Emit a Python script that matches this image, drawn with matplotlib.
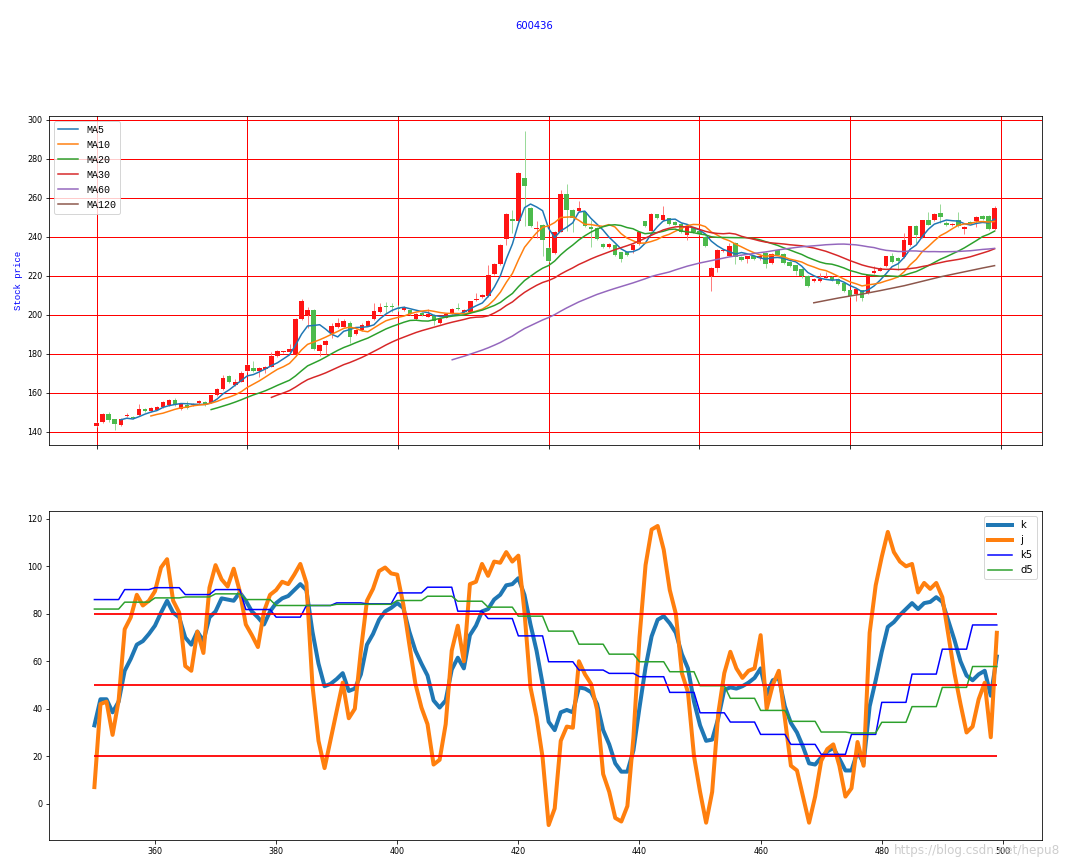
import numpy as np
import pandas as pd
import matplotlib
matplotlib.use("Agg")
import matplotlib.pyplot as plt

# 日K线数据 (600436, 150个交易日)
opens = [143.0, 145.0, 149.0, 146.3, 143.4, 147.8, 147.7, 148.4, 151.6, 150.6,
         151.3, 152.5, 153.5, 156.0, 151.8, 153.5, 153.6, 154.5, 155.4, 154.9,
         158.6, 162.0, 168.5, 163.9, 165.6, 171.0, 172.5, 171.0, 172.0, 173.3,
         178.7, 180.8, 180.7, 179.5, 198.0, 199.7, 202.2, 181.5, 184.5, 190.8,
         193.8, 193.8, 196.0, 190.0, 192.0, 194.3, 197.6, 201.3, 204.7, 204.7,
         203.5, 202.2, 202.2, 198.0, 201.0, 199.0, 199.7, 195.8, 198.5, 200.5,
         203.6, 201.5, 201.3, 207.5, 209.0, 209.5, 220.7, 225.8, 239.0, 249.0,
         248.0, 270.4, 254.9, 243.8, 246.1, 234.5, 231.6, 242.7, 262.2, 253.8,
         253.2, 252.5, 245.0, 244.6, 236.4, 234.7, 235.9, 232.0, 232.3, 233.0,
         236.2, 247.9, 243.2, 251.5, 248.7, 249.4, 247.7, 246.7, 240.7, 244.6,
         243.2, 239.8, 220.0, 224.1, 232.6, 230.4, 236.7, 229.6, 228.7, 230.4,
         229.0, 231.6, 226.5, 233.0, 231.3, 227.0, 225.3, 223.4, 220.0, 217.2,
         217.2, 219.0, 219.6, 218.4, 216.2, 212.5, 210.4, 212.5, 211.1, 221.4,
         222.7, 224.8, 229.9, 229.2, 229.6, 235.9, 245.8, 239.8, 248.4, 248.7,
         252.1, 247.0, 246.0, 248.4, 244.0, 247.5, 248.0, 250.9, 250.9, 243.8]
closes = [144.6, 149.0, 146.0, 144.0, 146.7, 148.7, 147.0, 151.8, 150.6, 152.0,
          152.6, 155.2, 156.2, 153.7, 154.4, 152.1, 154.0, 155.7, 153.5, 158.6,
          162.0, 167.7, 165.5, 165.6, 170.3, 174.0, 171.0, 172.5, 173.0, 179.0,
          181.2, 181.3, 182.5, 198.0, 207.2, 202.2, 182.5, 184.5, 186.6, 194.0,
          195.5, 197.0, 188.7, 192.0, 194.6, 197.0, 201.7, 204.2, 204.2, 203.9,
          203.0, 203.9, 200.5, 200.5, 200.0, 200.5, 196.6, 198.0, 200.5, 203.0,
          202.9, 202.3, 206.8, 208.2, 210.0, 220.2, 226.0, 236.0, 251.8, 248.0,
          273.0, 266.0, 245.3, 244.3, 238.4, 227.5, 242.7, 262.2, 253.8, 249.7,
          254.9, 245.3, 244.0, 239.0, 234.7, 236.4, 230.6, 228.5, 230.6, 235.9,
          242.6, 245.5, 251.8, 249.4, 251.1, 246.7, 246.3, 242.4, 245.3, 242.4,
          241.5, 235.5, 224.1, 233.3, 233.3, 235.5, 229.6, 227.9, 229.9, 228.7,
          230.0, 226.1, 231.3, 230.9, 226.5, 224.8, 222.4, 220.0, 214.7, 218.3,
          218.1, 219.6, 217.9, 215.9, 212.1, 209.4, 213.1, 208.7, 220.2, 222.4,
          224.1, 229.9, 227.0, 227.5, 238.5, 245.3, 240.7, 248.4, 246.3, 251.8,
          250.4, 246.1, 246.7, 245.3, 245.0, 247.0, 250.4, 249.2, 243.8, 254.9]
highs = [145.0, 149.5, 150.2, 146.5, 147.0, 149.8, 148.2, 154.0, 152.0, 152.5,
         153.0, 155.6, 156.6, 157.0, 154.8, 155.5, 154.5, 156.2, 155.8, 159.0,
         162.4, 169.0, 169.0, 167.0, 171.0, 174.5, 176.0, 173.0, 173.5, 181.0,
         181.8, 181.6, 185.0, 198.5, 208.0, 204.0, 202.8, 185.0, 187.0, 196.0,
         198.5, 198.0, 197.0, 192.5, 196.0, 197.5, 206.0, 206.0, 206.5, 206.0,
         205.0, 204.5, 202.6, 201.0, 201.5, 202.7, 200.2, 198.5, 201.0, 203.5,
         206.0, 203.0, 207.2, 211.0, 210.5, 225.3, 226.5, 236.5, 252.3, 253.6,
         273.5, 294.5, 255.4, 248.0, 246.5, 235.0, 243.0, 264.0, 267.0, 254.2,
         258.5, 253.0, 248.5, 245.0, 236.8, 236.8, 236.3, 232.4, 232.7, 236.3,
         243.0, 248.3, 252.2, 251.9, 255.8, 249.8, 248.1, 247.1, 245.7, 245.0,
         243.6, 240.2, 224.5, 233.7, 233.7, 237.0, 237.1, 230.0, 230.3, 230.8,
         231.0, 232.0, 231.7, 233.4, 231.7, 227.4, 225.7, 223.8, 220.4, 218.7,
         221.5, 222.0, 220.0, 218.8, 216.6, 212.9, 213.5, 212.9, 220.6, 225.0,
         224.5, 230.3, 231.5, 229.6, 242.0, 245.7, 246.2, 248.8, 252.6, 252.2,
         257.0, 248.0, 247.1, 252.5, 245.4, 248.0, 250.8, 251.3, 251.3, 256.0]
lows = [142.5, 144.5, 145.0, 140.8, 143.0, 147.5, 146.6, 148.0, 150.2, 150.2,
        151.0, 152.2, 153.2, 153.4, 151.0, 151.5, 153.0, 154.2, 153.2, 154.5,
        158.3, 161.5, 165.0, 163.5, 165.3, 170.5, 170.7, 168.0, 170.0, 173.0,
        178.3, 180.5, 180.3, 179.0, 197.5, 193.2, 182.0, 179.0, 180.0, 188.0,
        193.3, 193.5, 185.5, 189.5, 191.6, 194.0, 197.2, 201.0, 201.0, 201.5,
        202.0, 202.0, 200.0, 197.5, 199.6, 198.6, 194.5, 195.4, 198.2, 200.2,
        202.5, 201.0, 201.0, 207.0, 208.6, 209.0, 220.3, 225.5, 236.0, 241.7,
        247.5, 245.5, 244.8, 239.5, 230.0, 227.0, 231.2, 242.3, 243.0, 242.5,
        252.8, 244.8, 235.0, 238.5, 234.3, 234.3, 230.2, 227.0, 230.2, 231.5,
        235.8, 245.1, 242.8, 249.0, 248.3, 246.3, 245.9, 242.0, 238.5, 242.0,
        241.1, 235.0, 212.0, 222.0, 232.2, 230.0, 226.0, 227.5, 226.5, 228.3,
        228.0, 224.0, 226.1, 230.5, 226.1, 224.4, 220.5, 219.0, 214.3, 216.8,
        216.8, 218.6, 217.5, 215.5, 211.7, 209.0, 207.0, 207.0, 210.7, 221.0,
        222.3, 224.4, 226.6, 223.0, 229.2, 235.5, 237.0, 239.4, 246.0, 248.3,
        247.0, 245.7, 245.6, 244.9, 241.5, 246.6, 245.0, 248.8, 243.4, 243.4]

ma_periods = [5, 10, 20, 30, 60, 120]

# KDJ 指标 (x: 350 ~ 499)
kdj_x = list(range(350, 500))
k_vals = [33, 44, 44, 38.5, 43, 56, 61, 67, 68.5, 71.5,
          75, 80.5, 85.5, 80.5, 78.5, 70, 67, 72.5, 68.5, 78.5,
          81, 86.5, 86, 85.5, 89, 85.5, 81, 78.5, 75.5, 81,
          84.5, 86.5, 87.5, 90, 92.5, 90, 72.5, 59, 49.5, 50.5,
          52.5, 55, 47.5, 48.5, 54.5, 67, 71.5, 77.5, 81, 82.5,
          84.5, 82.5, 72.5, 64.5, 59, 54, 43.5, 40.5, 43.5, 56.5,
          61.5, 57, 71, 75, 81, 82, 86, 88, 92, 92.5,
          95, 88, 75.5, 64.5, 50.5, 34.5, 31, 38.5, 39.5, 38.5,
          49, 48.5, 47, 42, 31, 25, 17, 13.5, 13.5, 22.5,
          40.5, 57.5, 70.5, 77.5, 79, 76, 72, 63, 57, 43,
          33, 26.5, 27, 36, 48, 49, 48.5, 49.5, 51, 53,
          57, 46, 52, 53, 41, 34, 30, 24, 17, 16.5,
          19.5, 22, 23.5, 19, 14, 14, 22, 17, 41, 52,
          64, 74.5, 76.5, 79.5, 82, 84.5, 82, 84.5, 85, 87,
          85, 77, 69, 60, 54, 52, 54.5, 56, 45.5, 62]
j_vals = [7, 42, 43, 29, 43.5, 73.5, 78.5, 88, 83.5, 85.5,
          89.5, 99.5, 103, 85.5, 80.5, 58, 56, 72.5, 63.5, 91,
          100.5, 94.5, 91.5, 99, 89.5, 75.5, 71, 66, 81, 88,
          90, 93.5, 92.5, 96.5, 101, 93, 50, 26.5, 15, 27,
          39, 51, 36, 40, 64.5, 85.5, 90.5, 98, 99.5, 97,
          96.5, 84, 67, 50.5, 40.5, 33.5, 16.5, 18.5, 33.5, 64.5,
          75, 60, 92.5, 93.5, 101, 96, 102, 101.5, 106, 102,
          104.5, 81, 49, 36.5, 19.5, -9, -2, 26.5, 32.5, 32,
          60, 54.5, 50.5, 39.5, 12.5, 5, -6, -7.5, -1, 28,
          70, 100.5, 115.5, 117, 107, 90, 80, 55, 47, 20,
          5, -8, 5, 38, 55, 64, 57, 53, 56, 57,
          71, 40, 50, 56, 36, 16, 14, 3, -8, 3,
          18, 23, 25, 16, 3, 6.5, 26, 16, 72, 92,
          104, 114.5, 106, 102, 100, 101, 89, 93, 90.5, 93,
          87, 71, 55, 42, 30, 32.5, 44, 51, 28, 72]
# 周线KDJ, 每周一个值, 对应5个交易日
k5_weekly = [86, 90.2, 91, 88.1, 90.2, 81.8, 78.6, 83.5, 84.6, 84.2,
             88.8, 91.2, 81.1, 78, 70.7, 59.8, 56.3, 54.9, 53.5, 46.9,
             38.3, 34.4, 29.2, 25, 20.8, 29.2, 42.7, 54.6, 65.1, 75.3]
d5_weekly = [82, 84.9, 86.7, 87.1, 88.4, 86, 83.5, 83.5, 84, 84,
             85.6, 87.4, 85.3, 82.8, 79, 72.7, 67.2, 63, 59.8, 55.6,
             49.7, 44.4, 39.3, 34.7, 30.2, 29.8, 34.3, 40.9, 49, 57.8]
hline_levels = [20, 50, 80]

df = pd.DataFrame({'open': opens, 'close': closes, 'high': highs, 'low': lows})
idx = np.arange(len(df))
k5_vals = np.repeat(k5_weekly, 5)
d5_vals = np.repeat(d5_weekly, 5)

fig = plt.figure(figsize=(1069 / 72, 867 / 72), dpi=72)
fig.suptitle('600436', color='b', fontsize=10, y=0.976)

# 上图: K线 + 均线
ax1 = fig.add_axes([0.0461, 0.4867, 0.9286, 0.3799])
up = df['close'] >= df['open']
body_col = np.where(up, '#ff1414', '#4cba4c')
wick_col = np.where(up, '#ff7070', '#8fd68f')
ax1.vlines(idx, df['low'], df['high'], colors=wick_col, lw=0.9, zorder=2)
ax1.bar(idx, (df['close'] - df['open']).abs(), bottom=df[['open', 'close']].min(axis=1),
        width=0.75, color=body_col, zorder=2)
for p in ma_periods:
    ax1.plot(idx, df['close'].rolling(p).mean(), lw=1.5, label='MA%d' % p, zorder=3)
ax1.set_xticks(range(0, 151, 25))
ax1.set_xticklabels([])
ax1.grid(True, color='r', lw=1)
ax1.set_ylabel('Stock price', color='b', family='Liberation Mono', fontsize=9)
ax1.tick_params(labelsize=8)
ax1.legend(loc='upper left', prop={'family': 'Liberation Mono', 'size': 10})

# 下图: KDJ
ax2 = fig.add_axes([0.0461, 0.0311, 0.9286, 0.3795])
ax2.plot(kdj_x, k_vals, lw=4, label='k')
ax2.plot(kdj_x, j_vals, lw=4, label='j')
ax2.plot(kdj_x, k5_vals, color='b', lw=1.5, label='k5')
ax2.plot(kdj_x, d5_vals, color='C2', lw=1.5, label='d5')
for lv in hline_levels:
    ax2.hlines(lv, kdj_x[0], kdj_x[-1], colors='r', lw=1.8)
ax2.tick_params(labelsize=8)
ax2.legend(loc='upper right', fontsize=10, handlelength=2.4)

fig.text(0.992, 0.012, 'https://blog.csdn.net/hepu8', color='#c8c8c8', alpha=0.9,
         fontsize=12, ha='right', va='bottom')

fig.savefig('out.png', dpi=72)
